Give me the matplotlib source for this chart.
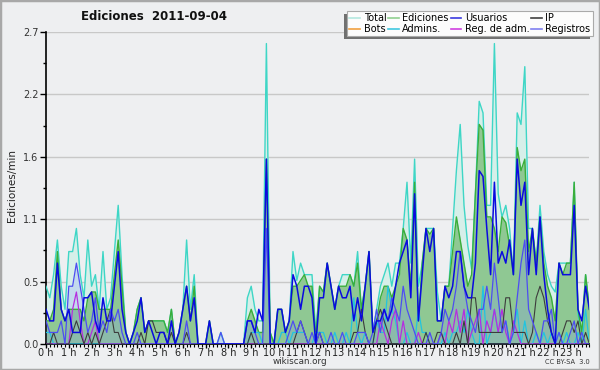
import matplotlib
matplotlib.use("Agg")
import matplotlib.pyplot as plt
import numpy as np
from matplotlib.lines import Line2D
from matplotlib.patches import Rectangle

title = "Ediciones  2011-09-04"
ylabel = "Ediciones/min"
hour_labels = [f"{h} h" for h in range(24)]
ytick_values = [0.0, 0.54, 1.08, 1.62, 2.16, 2.7]
ytick_labels = ["0.0", "0.5", "1.1", "1.6", "2.2", "2.7"]

# 10-minute samples (edits per minute), 144 per series
total = [.5, .4, .6, .9, .5, .3,  .8, .8, 1.0, .6, .4, .9,  .5, .6, .3, .8, .3, .4,
         .8, 1.2, .6, .1, 0, .1,  .3, .4, .1, .2, .2, .2,  .2, .2, .1, .3, 0, .1,
         .3, .9, .3, .6, 0, 0,  0, .2, 0, 0, .1, 0,  0, 0, 0, 0, 0, .4,
         .5, .3, .2, .2, 2.6, .1,  0, .3, .3, .1, .2, .8,  .55, .7, .6, .6, .6, .1,
         .5, .45, .7, .5, .3, .5,  .6, .6, .6, .5, .8, .3,  .5, .8, .1, .3, .5, .6,
         .7, .5, .7, .7, 1.0, 1.4,  .7, 1.6, .5, .7, 1.0, 1.0,  1.0, .45, .2, .5, .5, 1.0,
         1.5, 1.9, 1.2, .85, .65, 1.3,  2.1, 2.0, 1.2, 1.2, 2.6, 1.3,  1.1, 1.2, 1.0, .6, 2.0, 1.9,
         2.4, 1.0, 1.0, .7, 1.2, .8,  .6, .5, .45, .7, .7, .7,  .7, 1.4, .25, .1, .6, .3]
ediciones = [.2, .2, .3, .8, .3, .2,  .3, .3, .3, .3, .2, .4,  .45, .45, .3, .3, .3, .3,
             .6, .9, .5, .1, 0, .1,  .3, .4, .1, .2, .2, .2,  .2, .2, .1, .3, 0, .1,
             .3, .5, .2, .5, 0, 0,  0, .2, 0, 0, 0, 0,  0, 0, 0, 0, 0, .2,
             .3, .2, .1, .1, 1.6, .1,  0, .3, .3, .1, .2, .5,  .5, .55, .6, .5, .5, .05,
             .5, .45, .7, .5, .3, .5,  .5, .5, .6, .5, .7, .3,  .5, .8, .1, .2, .4, .5,
             .5, .4, .5, .6, 1.0, .9,  .5, 1.4, .2, .7, 1.0, .95,  1.0, .2, .2, .5, .5, .8,
             1.1, .9, .7, .5, .6, 1.3,  1.9, 1.85, 1.1, 1.1, 1.0, .8,  1.1, 1.05, .85, .6, 1.7, 1.5,
             1.6, .8, 1.0, .7, 1.1, .7,  .5, .4, .2, .7, .6, .7,  .7, 1.4, .3, .1, .6, .3]
usuarios = [.3, .2, .2, .7, .3, .2,  .3, .1, .1, .1, .4, .4,  .45, .2, .1, .4, .2, .2,
            .5, .8, .3, .1, 0, .1,  .2, .4, .1, .2, .1, 0,  .1, .1, 0, .2, 0, .1,
            .3, .5, .2, .4, 0, 0,  0, .2, 0, 0, 0, 0,  0, 0, 0, 0, 0, .2,
            .2, .1, .3, .2, 1.6, 0,  0, .3, .3, .1, .2, .6,  .5, .3, .5, .5, .4, 0,
            .4, .4, .7, .5, .3, .5,  .4, .4, .5, .2, .4, .2,  .5, .8, .1, .2, .2, .3,
            .2, .3, .5, .7, .8, .9,  .4, 1.3, .2, .6, 1.0, .8,  1.0, .2, .2, .5, .4, .5,
            .8, .8, .5, .4, .4, .7,  1.5, 1.45, 1.0, .6, 1.4, .7,  .8, .7, .9, .6, 1.6, 1.2,
            1.4, .6, 1.0, .6, 1.1, .6,  .3, .1, 0, .7, .6, .6,  .6, 1.2, .3, .2, .5, .3]
ip = [0, 0, .1, 0, 0, 0,  0, .1, .2, .1, 0, .1,  0, .1, 0, .1, .2, .3,
      .1, .1, 0, 0, 0, 0,  0, .1, 0, .2, .2, .1,  .1, .1, 0, .1, 0, 0,
      0, .1, 0, 0, 0, 0,  0, 0, 0, 0, 0, 0,  0, 0, 0, 0, 0, 0,
      .1, 0, 0, 0, 0, 0,  0, 0, 0, 0, 0, 0,  .1, .2, .1, 0, 0, 0,
      .1, 0, 0, 0, 0, 0,  0, 0, 0, .1, .1, .3,  .1, 0, 0, .2, .3, .2,
      .1, 0, 0, 0, 0, 0,  0, 0, 0, 0, .1, 0,  0, .1, .1, 0, 0, 0,
      .1, 0, .2, 0, .4, .4,  .1, .1, .1, .1, .1, .1,  .1, .4, .4, .1, .1, .1,
      .1, 0, .1, .4, .5, .4,  .2, .1, 0, 0, .1, .2,  .2, .1, .2, 0, .1, 0]
bots = [0] * 144
admins = [.1, .1, 0, 0, 0, 0] + [0] * 48 + \
         [.1, .1, .1, 0, 0, 0,  0, 0, .1, .1, 0, .1,  .1, .1, .1, 0, 0, .1,
          .1, .1, 0, 0, .1, 0,  0, .1, 0, .4, .1, 0,  .1, 0, 0, .2, .1, .1,
          .5, .3, .2, 0, 0, .1,  0, 0, .3, .1, .1, 0,  0, 0, 0, .1, 0, .1,
          .1, .2, .1, .3, .1, 0,  0, .5, 0, .1, .3, .1,  .1, .2, 0, .1, .3, 0,
          .2, 0, 0, .1, 0, .1,  0, .1, 0, .1, 0, .1,  0, 0, .1, 0, .3, 0]
reg_adm = [0, 0, 0, 0, 0, 0,  0, .3, .45, .2, 0, 0,  .1, .2, 0, 0, 0, 0] + [0] * 66 + \
          [0, 0, 0, 0, .2, .1,
           0, .2, .3, 0, .2, 0,  0, 0, .1, 0, 0, 0,  0, 0, .1, 0, .2, .1,
           .3, .1, .3, 0, .1, .2,  .3, 0, .2, .1, .3, .1,  .3, .1, 0, .2, .1, 0,
           0, 0, 0, 0, 0, 0,  0, 0, 0, 0, 0, 0,  0, 0, 0, 0, 0, 0]
registros = [.2, .1, .1, .1, .2, 0,  .5, .5, .7, .5, .3, .1,  .2, .4, .1, .2, .1, .3,
             .2, .3, .1, 0, 0, 0,  .1, 0, 0, 0, 0, 0,  0, 0, 0, 0, 0, 0,
             0, .2, 0, 0, 0, 0,  0, 0, 0, 0, .1, 0,  0, 0, 0, 0, 0, .2,
             .2, .1, 0, 0, 1.0, 0,  0, 0, 0, 0, .1, .2,  .1, .2, .1, 0, .1, 0,
             .1, 0, 0, .1, 0, 0,  .1, 0, 0, 0, .1, .1,  .1, 0, .1, .3, .1, .3,
             .2, .4, .3, .2, .5, .3,  .2, .1, 0, 0, 0, .1,  0, 0, .1, .3, .2, .3,
             .5, .8, .5, .3, .2, .1,  .3, .3, .5, .3, .7, .4,  .1, .2, 0, .1, .4, .7,
             .9, .3, .2, .1, 0, .2,  .2, .3, 0, .1, 0, 0,  .1, .2, 0, .1, 0, 0]

bg = "#eeeff1"
fig = plt.figure(figsize=(6, 3.7), dpi=100, facecolor=bg)
ax = fig.add_axes([46 / 600, 1 - 344 / 370, (589.4 - 46) / 600, (344 - 32) / 370])
ax.set_facecolor(bg)

x = np.arange(len(total))
ax.fill_between(x, total, color="#d6efe9", lw=0, zorder=1)
ax.fill_between(x, ediciones, color="#8fc893", lw=0, zorder=2)
ax.fill_between(x, registros, color="#8090ff", alpha=0.22, lw=0, zorder=3)
ax.plot(x, total, color="#3ed6c6", lw=1.0, zorder=4)
ax.plot(x, ediciones, color="#3aae3a", lw=1.0, zorder=5)
ax.plot(x, admins, color="#22c4e0", lw=0.9, zorder=6)
ax.plot(x, reg_adm, color="#b52ee0", lw=0.9, zorder=7)
ax.plot(x, ip, color="#3c3c3c", lw=0.8, zorder=8)
ax.plot(x, registros, color="#4d4df2", lw=0.9, zorder=9)
ax.plot(x, usuarios, color="#0a0ae0", lw=1.1, zorder=10)

ax.set_xlim(0, len(total) - 1)
ax.set_ylim(0, 2.7)
for v in ytick_values[1:]:
    ax.axhline(v, color="#c8c8c8", lw=1.0, zorder=0.5)

for s in ["top", "right"]:
    ax.spines[s].set_visible(False)
ax.spines["left"].set_linewidth(1.2)
ax.spines["bottom"].set_linewidth(1.2)

ax.set_yticks(ytick_values)
ax.set_yticklabels(ytick_labels, fontsize=7, color="#333333")
ax.set_yticks(np.arange(0.27, 2.7, 0.54), minor=True)
ax.tick_params(axis="y", which="major", length=4.5, width=1, pad=1)
ax.tick_params(axis="y", which="minor", length=2.2, width=1)

ax.set_xticks(np.arange(0, 144, 6))
ax.set_xticklabels(hour_labels, fontsize=7, color="#222222")
ax.set_xticks(np.arange(0, 144, 1), minor=True)
ax.tick_params(axis="x", which="major", length=2.6, width=1, pad=0.3)
ax.tick_params(axis="x", which="minor", length=2.2, width=0.8)

fig.text(12 / 600, 1 - 185 / 370, ylabel, rotation=90, fontsize=7.5,
         ha="center", va="center", color="#222222")
fig.text(154 / 600, 1 - 16 / 370, title, fontsize=8.5, fontweight="bold",
         ha="center", va="center", color="#111111")
fig.text(300 / 600, 1 - 362 / 370, "wikiscan.org", fontsize=6.3,
         ha="center", va="center", color="#333333")
fig.text(590 / 600, 1 - 362 / 370, "CC BY-SA  3.0", fontsize=4.8,
         ha="right", va="center", color="#333333")

names = ["Total", "Bots", "Ediciones", "Admins.", "Usuarios", "Reg. de adm.", "IP", "Registros"]
colors = ["#b4e8e0", "#f0a040", "#90d090", "#40c8e0", "#3a3ae0", "#d040e0", "#404040", "#8080f0"]
handles = [Line2D([0], [0], color=c, lw=1.2) for c in colors]
leg = fig.legend(handles, names, ncol=4, loc="upper right",
                 bbox_to_anchor=(593 / 600, 1 - 11 / 370), fontsize=7,
                 frameon=True, fancybox=False, edgecolor="#aaaaaa",
                 facecolor="#fcfcfc", framealpha=1, handlelength=1.1,
                 handletextpad=0.35, columnspacing=0.2, labelspacing=0.05,
                 borderpad=0.25, borderaxespad=0)
leg.get_frame().set_linewidth(0.8)
leg.set_zorder(20)
fig.canvas.draw()
bb = leg.get_window_extent().transformed(fig.transFigure.inverted())
shadow = Rectangle((bb.x0 - 3 / 600, bb.y0 - 3 / 370), bb.width, bb.height,
                   transform=fig.transFigure, facecolor="#707070", edgecolor="none",
                   zorder=19)
fig.patches.append(shadow)

border = Rectangle((0, 0), 1, 1, transform=fig.transFigure, fill=False,
                   edgecolor="#a8a8a8", lw=2.5, zorder=30)
fig.patches.append(border)

fig.savefig("out.png", dpi=100, facecolor=bg)
